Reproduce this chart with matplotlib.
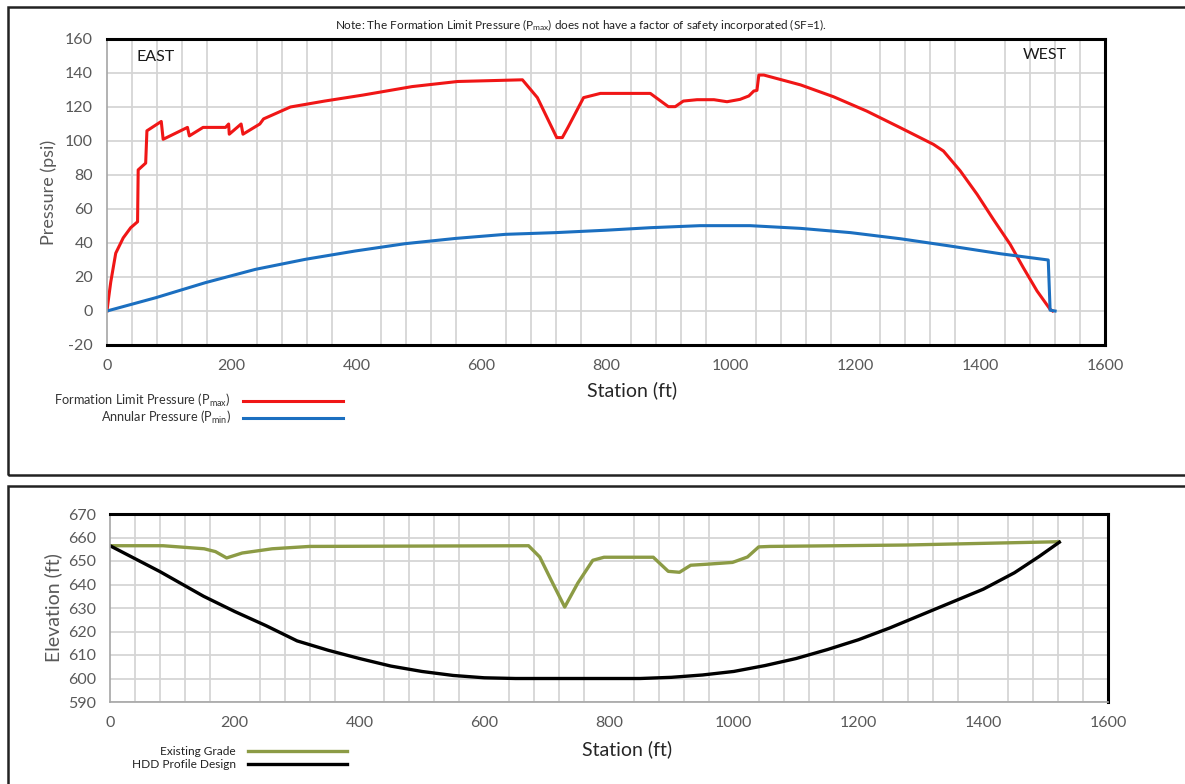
import matplotlib
matplotlib.use("Agg")
from matplotlib import pyplot as plt
from matplotlib.patches import Rectangle

plt.rcParams['font.family'] = ['Lato', 'DejaVu Sans']
plt.rcParams['mathtext.fontset'] = 'custom'
plt.rcParams['mathtext.rm'] = 'Lato'
plt.rcParams['axes.unicode_minus'] = False

# Formation limit pressure (Pmax), psi vs station ft
pmax_x = [0, 2, 6, 14, 26, 38, 49, 50, 59, 62, 64, 87, 90, 129, 132, 154, 190, 195, 196,
          215, 218, 245, 251, 294, 349, 410, 489, 562, 666, 690, 721, 730, 739, 764,
          791, 871, 884, 900, 911, 924, 946, 973, 994, 1015, 1029, 1037, 1042, 1045, 1053,
          1112, 1165, 1218, 1272, 1325, 1341, 1368, 1395, 1421, 1448, 1469, 1491, 1512, 1516]
pmax_y = [0, 6, 17, 34, 43, 49, 52.5, 83, 86, 87, 106, 111.5, 101, 108, 103, 108, 108, 110, 104,
          110, 104, 110, 113, 120, 123.5, 127, 132, 135, 136, 125.5, 102, 102, 108, 125.5,
          128, 128, 124.5, 120.2, 120.2, 123.5, 124.3, 124.3, 123.1, 124.5, 126.5, 129.4, 129.8,
          138.8, 138.8, 133, 126, 117.6, 107.8, 98, 94.1, 82.4, 68.6, 53.9, 39.2, 25.5, 11.8, 1, 0]

# Annular pressure (Pmin)
pmin_x = [0, 78, 158, 238, 318, 398, 478, 559, 639, 719, 799, 871, 951, 1031, 1112, 1192,
          1272, 1352, 1432, 1509, 1512, 1520]
pmin_y = [0, 7.8, 16.7, 24.5, 30.4, 35.3, 39.6, 42.7, 45.1, 46.1, 47.5, 49, 50.2, 50.2, 48.6,
          46.1, 42.5, 38.2, 33.7, 30, 0.5, 0]

# Existing grade elevation
grade_x = [0, 85, 151, 169, 187, 212, 260, 320, 671, 689, 707, 729, 750, 774, 792, 871,
           895, 913, 931, 961, 998, 1022, 1040, 1058, 1276, 1521]
grade_y = [656.5, 656.5, 655.2, 654, 651.3, 653.4, 655.2, 656.2, 656.5, 651.7, 642, 630.4,
           640.6, 650.3, 651.6, 651.6, 645.6, 645.2, 648.2, 648.7, 649.4, 651.7, 656, 656.2,
           656.8, 658.2]

# HDD profile design elevation
hdd_x = [0, 80, 150, 200, 250, 300, 350, 400, 450, 500, 550, 600, 650, 850, 900, 950,
         1000, 1050, 1100, 1150, 1200, 1250, 1300, 1350, 1400, 1450, 1490, 1522]
hdd_y = [656.5, 645.5, 635, 628.5, 622.5, 616, 612, 608.5, 605.3, 603, 601.3, 600.3, 600,
         600, 600.5, 601.5, 603, 605.5, 608.5, 612.3, 616.5, 621.5, 627, 632.5, 638, 645,
         652, 658]

W, H = 1185, 784
fig = plt.figure(figsize=(W / 100, H / 100), dpi=100)

# outer panel boxes
fig.patches.append(Rectangle((8 / W, 1 - 475 / H), 1.2, 468 / H, transform=fig.transFigure,
                             fill=False, ec='#222222', lw=1.8))
fig.patches.append(Rectangle((8 / W, -0.2), 1.2, 0.2 + (1 - 486 / H), transform=fig.transFigure,
                             fill=False, ec='#222222', lw=1.8))

grid_c = '#d5d5d5'
tick_c = '#595959'


def style_axes(ax):
    ax.set_axisbelow(True)
    ax.set_xlim(0, 1600)
    ax.set_xticks(range(0, 1601, 40), minor=True)
    ax.set_xticks(range(0, 1601, 200))
    ax.grid(True, which='major', axis='y', color=grid_c, lw=1.3)
    ax.grid(True, which='minor', axis='x', color=grid_c, lw=1.3)
    ax.tick_params(which='both', length=0)
    ax.tick_params(labelsize=11.5, colors=tick_c, pad=10)
    for s in ['top', 'right']:
        ax.spines[s].set_color('black')
        ax.spines[s].set_linewidth(2.2)
    ax.spines['left'].set_color('#a6a6a6')
    ax.spines['left'].set_linewidth(1.2)


# top chart: pressures
ax1 = fig.add_axes([107 / W, 1 - 345 / H, 998 / W, 306 / H])
ax1.plot(pmax_x, pmax_y, color='#f01616', lw=2.2, label='Formation Limit Pressure (P$\\mathregular{_{max}}$)')
ax1.plot(pmin_x, pmin_y, color='#1b6fc0', lw=2.2, label='Annular Pressure (P$\\mathregular{_{min}}$)')
ax1.set_ylim(-20, 160)
ax1.set_yticks(range(-20, 161, 20))
style_axes(ax1)
ax1.spines['bottom'].set_color('black')
ax1.spines['bottom'].set_linewidth(2.2)
ax1.set_ylabel('Pressure (psi)', fontsize=13, color=tick_c)
ax1.yaxis.set_label_coords(-0.05, 0.5)
ax1.set_xlabel('Station (ft)', fontsize=14, color='#262626')
ax1.xaxis.set_label_coords(0.526, -0.12)
ax1.text(0.030, 0.965, 'EAST', transform=ax1.transAxes, fontsize=11.5, va='top', color='#1a1a1a')
ax1.text(0.962, 0.972, 'WEST', transform=ax1.transAxes, fontsize=11.5, va='top', ha='right',
         color='#1a1a1a')
fig.text(581 / W, 1 - 25 / H,
         'Note: The Formation Limit Pressure (P$\\mathregular{_{max}}$) does not have a factor of '
         'safety incorporated (SF=1).', fontsize=8.5, ha='center', va='center', color='#222222')
ax1.legend(loc='upper right', bbox_to_anchor=(343 / W, 1 - 392 / H), bbox_transform=fig.transFigure,
           markerfirst=False, frameon=False, fontsize=9.2, handlelength=7.8, handletextpad=1.0,
           labelspacing=0.0, borderpad=0, borderaxespad=0, labelcolor='#333333')

# bottom chart: elevations
ax2 = fig.add_axes([110 / W, 1 - 702 / H, 998 / W, 188 / H])
ax2.plot(grade_x, grade_y, color='#8c9b45', lw=2.4, label='Existing Grade')
ax2.plot(hdd_x, hdd_y, color='black', lw=2.4, label='HDD Profile Design')
ax2.set_ylim(590, 670)
ax2.set_yticks(range(590, 671, 10))
style_axes(ax2)
ax2.spines['bottom'].set_color('#a6a6a6')
ax2.spines['bottom'].set_linewidth(1.2)
ax2.set_ylabel('Elevation (ft)', fontsize=14, color=tick_c)
ax2.yaxis.set_label_coords(-0.048, 0.5)
ax2.set_xlabel('Station (ft)', fontsize=14, color='#262626')
ax2.xaxis.set_label_coords(0.518, -0.205)
ax2.legend(loc='upper right', bbox_to_anchor=(347 / W, 1 - 746 / H), bbox_transform=fig.transFigure,
           markerfirst=False, frameon=False, fontsize=8.6, handlelength=8.3, handletextpad=1.0,
           labelspacing=0.2, borderpad=0, borderaxespad=0, labelcolor='#222222')

fig.savefig('out.png', dpi=100)
